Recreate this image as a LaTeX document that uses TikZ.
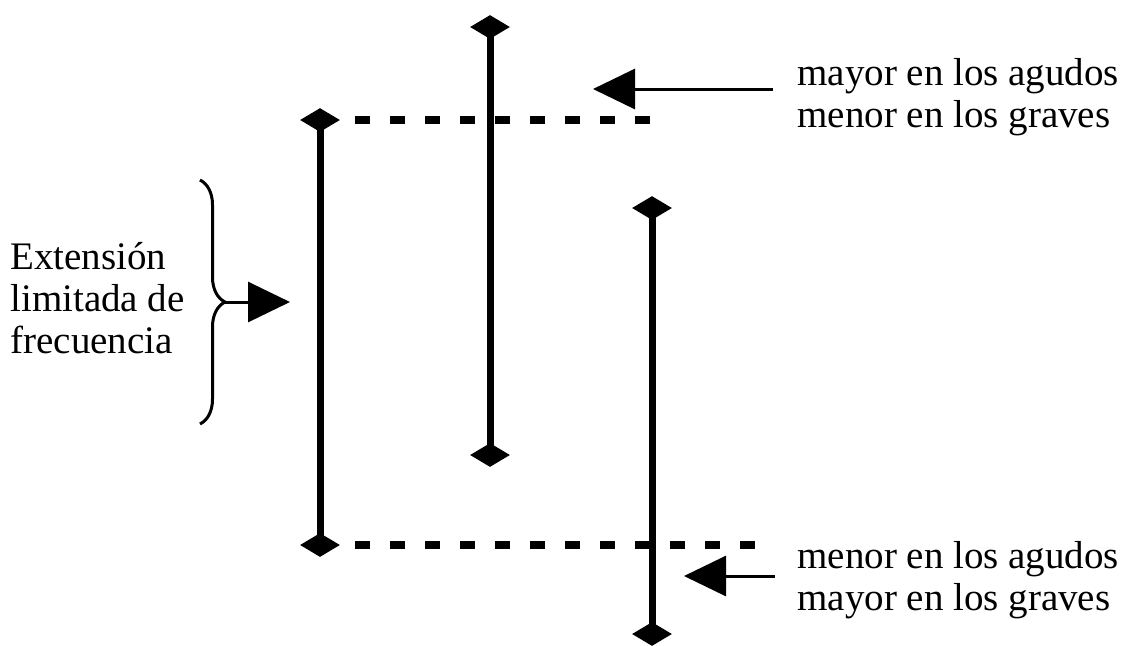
\documentclass[tikz,border=0pt]{standalone}
\usepackage{fontspec}
\setmainfont{Liberation Serif}
\usetikzlibrary{shapes.geometric,arrows.meta,decorations.pathreplacing}
\begin{document}
\begin{tikzpicture}[x=0.5pt,y=-0.5pt,
  marker/.style={diamond,fill=black,draw=none,minimum width=20pt,minimum height=12pt,inner sep=0pt},
  bar/.style={line width=3.5pt},
  guide/.style={line width=4pt,dash pattern=on 7.5pt off 10pt},
  pointer/.style={line width=1.5pt,-{Triangle[length=21pt,width=20pt]}},
  note/.style={inner sep=0pt,align=left,font=\fontsize{19.5}{21}\selectfont}]
\useasboundingbox (0,0) rectangle (1131,645);

% range markers
\node[marker] (a1) at (320,120) {};
\node[marker] (a2) at (320,545) {};
\node[marker] (b1) at (490,27) {};
\node[marker] (b2) at (490,455) {};
\node[marker] (c1) at (652,208) {};
\node[marker] (c2) at (652,634) {};

% vertical ranges
\draw[bar] (a1.center) -- (a2.center);
\draw[bar] (b1.center) -- (b2.center);
\draw[bar] (c1.center) -- (c2.center);

% dashed reference levels
\coordinate (t0) at (355,120);
\coordinate (t1) at (655,120);
\coordinate (u0) at (355,545);
\coordinate (u1) at (760,545);
\draw[guide] (t0) -- (t1);
\draw[guide] (u0) -- (u1);

% captions
\node[note,anchor=west] (up) at (797,97) {mayor en los agudos\\menor en los graves};
\node[note,anchor=west] (down) at (797,580) {menor en los agudos\\mayor en los graves};
\node[note,anchor=west] (ext) at (10,298) {Extensión\\limitada de\\frecuencia};

% pointers from captions
\coordinate (p0) at (773,89);
\coordinate (p1) at (593,89);
\coordinate (q0) at (775,576);
\coordinate (q1) at (684,576);
\draw[pointer] (p0) -- (p1);
\draw[pointer] (q0) -- (q1);

% brace and its pointer
\coordinate (br0) at (200,180);
\coordinate (br1) at (200,424);
\coordinate (bt) at (225,302);
\coordinate (bh) at (290,302);
\draw[line width=1.5pt,decorate,decoration={brace,amplitude=12.5pt,aspect=0.5}] (br0) -- (br1);
\draw[pointer] (bt) -- (bh);
\end{tikzpicture}
\end{document}
